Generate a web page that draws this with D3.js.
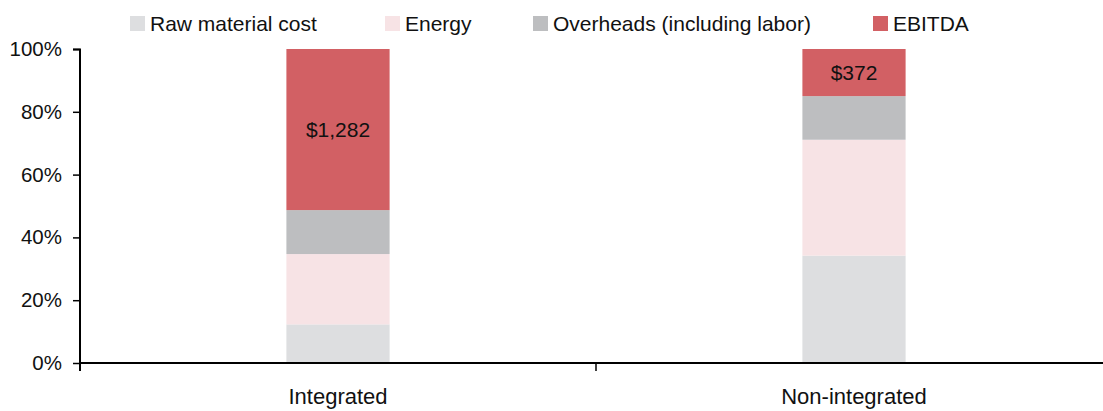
<!DOCTYPE html>
<html>
<head>
<meta charset="utf-8">
<script src="https://cdn.jsdelivr.net/npm/d3@7"></script>
<style>
  html, body { margin: 0; padding: 0; background: #fff; }
  svg { display: block; font-family: "Liberation Sans", Arial, sans-serif; }
</style>
</head>
<body>
<svg id="chart" width="1103" height="411"></svg>
<script>
// Cost structure per tonne, share of total (%)
const categories = ["Integrated", "Non-integrated"];
const seriesNames = ["Raw material cost", "Energy", "Overheads (including labor)", "EBITDA"];
const rawMaterial = [12.3, 34.2];
const energy = [22.4, 36.9];
const overheads = [14.0, 13.9];
const ebitda = [51.3, 15.0];
const ebitdaLabels = ["$1,282", "$372"];
const yTicks = [0, 20, 40, 60, 80, 100];
const colors = ["#dddee0", "#f7e3e5", "#bdbec0", "#d26064"];

const svg = d3.select("#chart");
const margin = { left: 80, right: -9, top: 49, bottom: 48 };
const width = 1103 - margin.left - margin.right;
const height = 411 - margin.top - margin.bottom;

const g = svg.append("g").attr("transform", `translate(${margin.left},${margin.top})`);

const x = d3.scaleBand().domain(categories).range([0, width]).paddingInner(0).paddingOuter(0);
const y = d3.scaleLinear().domain([0, 100]).range([height, 0]);

const table = categories.map((c, i) => ({
  category: c,
  "Raw material cost": rawMaterial[i],
  "Energy": energy[i],
  "Overheads (including labor)": overheads[i],
  "EBITDA": ebitda[i]
}));
const stacked = d3.stack().keys(seriesNames)(table);

const barW = x.bandwidth() * 0.2;

// stacked segments
g.selectAll("g.series")
  .data(stacked)
  .join("g")
  .attr("class", "series")
  .attr("fill", (d, i) => colors[i])
  .selectAll("rect")
  .data(d => d)
  .join("rect")
  .attr("x", d => x(d.data.category) + x.bandwidth() / 2 - barW / 2)
  .attr("width", barW)
  .attr("y", d => y(d[1]))
  .attr("height", d => y(d[0]) - y(d[1]));

// EBITDA value labels
const ebitdaLayer = stacked[3];
g.selectAll("text.val")
  .data(ebitdaLayer)
  .join("text")
  .attr("class", "val")
  .attr("x", d => x(d.data.category) + x.bandwidth() / 2)
  .attr("y", d => (y(d[0]) + y(d[1])) / 2)
  .attr("dy", "0.35em")
  .attr("text-anchor", "middle")
  .attr("font-size", 21)
  .attr("fill", "#111")
  .text((d, i) => ebitdaLabels[i]);

// y axis
const yAxis = g.append("g")
  .call(d3.axisLeft(y).tickValues(yTicks).tickFormat(d => d + "%").tickSize(7).tickPadding(11));
yAxis.select(".domain").attr("stroke", "#000").attr("stroke-width", 2)
  .attr("d", `M-7,0.5H0V${height + 8}`);
yAxis.selectAll(".tick line").attr("stroke", "#000").attr("stroke-width", 1.5);
yAxis.selectAll(".tick text").attr("font-size", 20.5).attr("fill", "#111")
  .attr("font-family", "Liberation Sans, Arial, sans-serif");

// x axis with ticks between categories
const xAxis = g.append("g").attr("transform", `translate(0,${height})`);
xAxis.append("line").attr("x1", 0).attr("x2", width).attr("stroke", "#000").attr("stroke-width", 2);
const boundaries = [x(categories[1])];
xAxis.selectAll("line.sep").data(boundaries).join("line").attr("class", "sep")
  .attr("x1", d => d).attr("x2", d => d).attr("y1", 0).attr("y2", 8)
  .attr("stroke", "#000").attr("stroke-width", 1.5);
xAxis.selectAll("text.cat").data(categories).join("text").attr("class", "cat")
  .attr("x", d => x(d) + x.bandwidth() / 2)
  .attr("y", 41)
  .attr("text-anchor", "middle")
  .attr("font-size", 22)
  .attr("fill", "#111")
  .text(d => d);

// legend
const legendX = [130, 385, 533, 873];
const legend = svg.append("g");
const items = legend.selectAll("g").data(seriesNames).join("g")
  .attr("transform", (d, i) => `translate(${legendX[i]},16)`);
items.append("rect").attr("width", 15).attr("height", 15).attr("fill", (d, i) => colors[i]);
items.append("text").attr("x", 20).attr("y", 15).attr("font-size", 21).attr("fill", "#111").text(d => d);
</script>
</body>
</html>
